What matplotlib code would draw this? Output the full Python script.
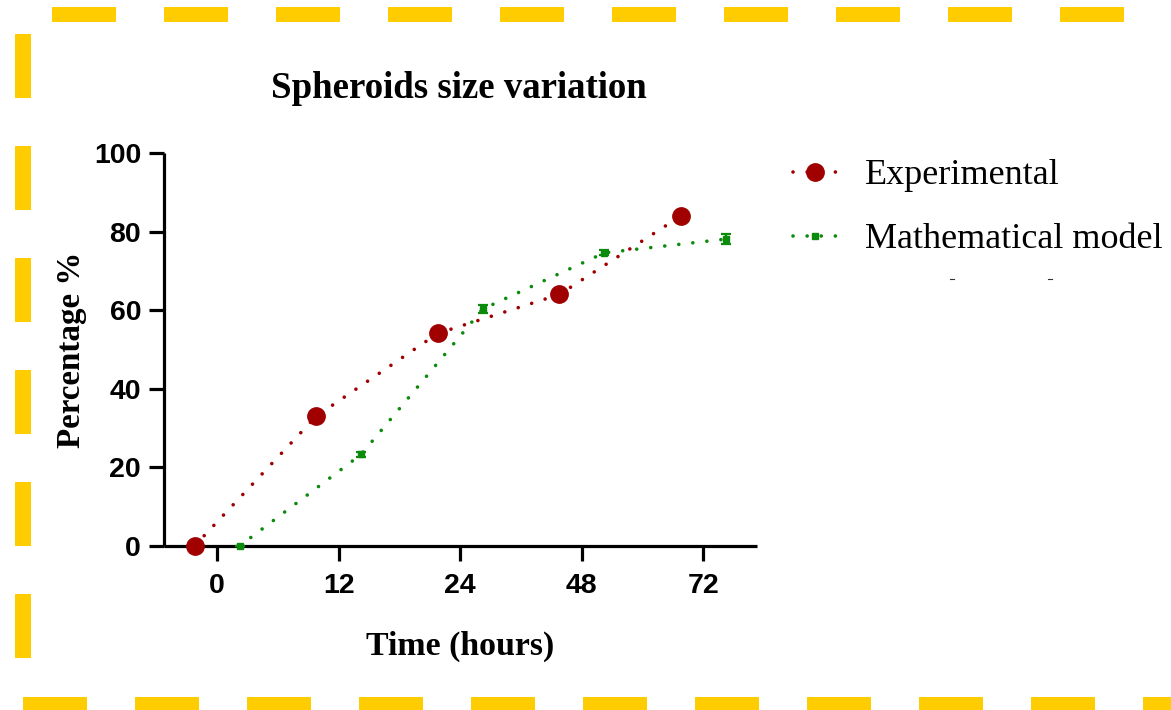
import numpy as np
import matplotlib
matplotlib.use("Agg")
import matplotlib.pyplot as plt
from matplotlib.patches import Rectangle
from matplotlib.lines import Line2D

# ---- data -------------------------------------------------------------
time_labels = ["0", "12", "24", "48", "72"]
experimental = [0.0, 33.0, 54.1, 64.0, 84.0]
model = [0.0, 23.3, 60.3, 74.6, 78.1]
model_err = [0.0, 0.6, 0.9, 0.6, 1.3]

RED = "#A00000"
GREEN = "#0B8A0B"
YELLOW = "#FFCC00"

W, H = 1171, 710
fig = plt.figure(figsize=(W / 100, H / 100), dpi=100)
fig.patch.set_facecolor("white")


def px_rect(x, y, w, h):
    """Rectangle given in pixel coordinates measured from the top-left."""
    return Rectangle((x / W, 1 - (y + h) / H), w / W, h / H,
                     transform=fig.transFigure, facecolor=YELLOW,
                     edgecolor="none", zorder=0)


# dashed yellow frame (top, bottom and left edges)
for k in range(10):
    fig.add_artist(px_rect(52 + 112 * k, 7, 64, 15))
for k in range(11):
    fig.add_artist(px_rect(23 + 112 * k, 697, 64, 15))
for k in range(6):
    fig.add_artist(px_rect(15, 34 + 112 * k, 16, 64))

# ---- axes ---------------------------------------------------------------
ax = fig.add_axes([164 / W, 1 - 546 / H, (757 - 164) / W, (546 - 153) / H])
pos = np.arange(len(time_labels))
shift = 0.185

dotted = (0, (0.01, 3.9))
ax.plot(pos - shift, experimental, color=RED, lw=2.6, ls=dotted,
        dash_capstyle="round", marker="o", ms=12.5, mec=RED, mfc=RED,
        clip_on=False, zorder=4, label="Experimental")
ax.errorbar(pos + shift, model, yerr=model_err, color=GREEN, lw=2.6,
            ls=dotted, dash_capstyle="round", marker="s", ms=4,
            mec=GREEN, mfc=GREEN, elinewidth=1.6, capsize=3.5,
            capthick=1.6, clip_on=False, zorder=3)

ax.set_xlim(-0.436, 4.44)
ax.set_ylim(0, 100)
ax.set_xticks(pos)
ax.set_xticklabels(time_labels)
ax.set_yticks([0, 20, 40, 60, 80, 100])

for side in ("top", "right"):
    ax.spines[side].set_visible(False)
for side in ("left", "bottom"):
    ax.spines[side].set_linewidth(2.3)
    ax.spines[side].set_capstyle("butt")
ax.tick_params(axis="both", width=2.3, length=10.5, pad=6, direction="out",
               labelsize=20.5)
for lab in ax.get_xticklabels() + ax.get_yticklabels():
    lab.set_fontfamily("Liberation Sans")
    lab.set_fontweight("bold")
ax.tick_params(axis="x", pad=9)

ax.set_xlabel("Time (hours)", fontfamily="Liberation Serif",
              fontweight="bold", fontsize=24.4, labelpad=23)
ax.set_ylabel("Percentage %", fontfamily="Liberation Serif",
              fontweight="bold", fontsize=23.8, labelpad=5)

fig.text(459 / W, 1 - 88 / H, "Spheroids size variation",
         fontfamily="Liberation Serif", fontweight="bold", fontsize=26.6,
         ha="center", va="center")

# ---- legend -------------------------------------------------------------
handles = [
    Line2D([], [], color=RED, lw=2.6, ls=dotted, dash_capstyle="round",
           marker="o", ms=12.5, mfc=RED, mec=RED),
    Line2D([], [], color=GREEN, lw=2.6, ls=dotted, dash_capstyle="round",
           marker="s", ms=4, mfc=GREEN, mec=GREEN),
]
fig.legend(handles, ["Experimental", "Mathematical model"],
           loc="upper left", bbox_to_anchor=(793 / W, 1 - 159 / H),
           frameon=False, prop={"family": "Liberation Serif", "size": 26},
           handlelength=1.2, handletextpad=0.8, labelspacing=0.85,
           borderaxespad=0, borderpad=0)

# two tiny stray ticks below the legend
for xp in (952, 1050):
    fig.add_artist(Line2D([(xp - 2) / W, (xp + 2) / W],
                          [1 - 279 / H, 1 - 279 / H],
                          transform=fig.transFigure, color="#333333", lw=0.8))

fig.savefig("out.png", dpi=100, facecolor="white")
